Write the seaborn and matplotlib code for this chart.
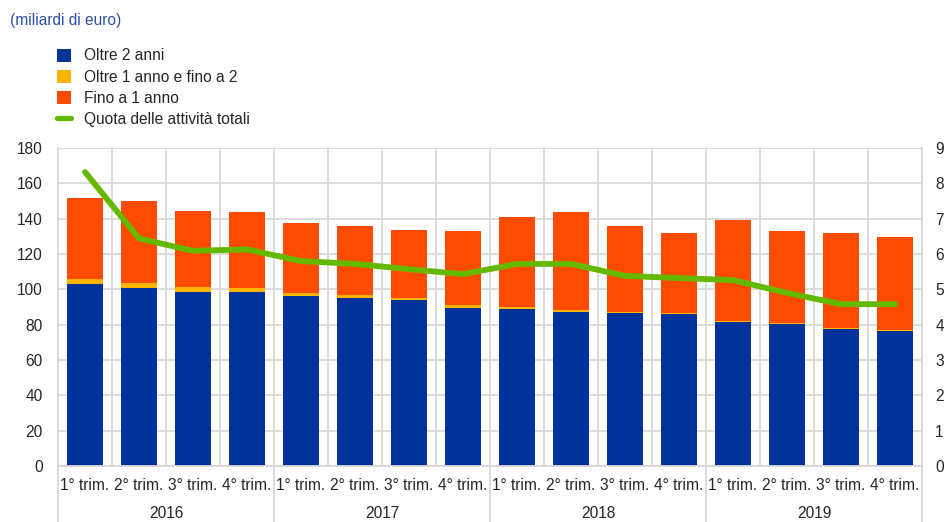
"""
Titoli detenuti per scadenza e quota delle attività totali (2016-2019)
"""
import numpy as np
import matplotlib
matplotlib.use('Agg')
import matplotlib.pyplot as plt
from matplotlib.patches import Patch
from matplotlib.lines import Line2D
import matplotlib.transforms as mtransforms
import pandas as pd
import seaborn as sns

# dati
anni = ['2016', '2017', '2018', '2019']
trimestri = ['1° trim.', '2° trim.', '3° trim.', '4° trim.']
oltre_2 = [103.0, 100.7, 98.6, 98.6, 96.4, 95.3, 94.1, 89.6,
           89.0, 87.3, 86.4, 85.9, 81.5, 80.4, 77.5, 76.4]
oltre_1_fino_2 = [2.6, 2.7, 2.7, 2.3, 1.5, 1.5, 1.0, 1.3,
                  1.0, 1.0, 0.9, 0.7, 0.8, 0.7, 0.7, 0.8]
fino_1 = [46.1, 46.4, 43.2, 42.8, 39.6, 38.8, 38.5, 42.1,
          50.7, 55.4, 48.7, 45.4, 56.7, 51.7, 53.7, 52.2]
quota = [8.32, 6.44, 6.09, 6.13, 5.80, 5.72, 5.57, 5.43,
         5.72, 5.72, 5.38, 5.32, 5.26, 4.90, 4.58, 4.58]

BLU = '#003299'
GIALLO = '#FFB400'
ARANCIO = '#FF4B00'
VERDE = '#65B800'
GRIGIO = '#d9d9d9'

sns.set_style('white')
plt.rcParams['font.family'] = ['Liberation Sans', 'DejaVu Sans']
plt.rcParams['font.size'] = 11.2

chiavi = [a + ' ' + t for a in anni for t in trimestri]
df = pd.DataFrame({
    'periodo': chiavi,
    'blu': oltre_2,
    'giallo': np.array(oltre_2) + np.array(oltre_1_fino_2),
    'totale': np.array(oltre_2) + np.array(oltre_1_fino_2) + np.array(fino_1),
    'quota': quota,
    'pos': np.arange(len(chiavi)),
})

fig = plt.figure(figsize=(9.44, 5.22), dpi=100)
ax = fig.add_axes([58 / 944, 56 / 522, 864 / 944, 318 / 522])

# barre sovrapposte (dal totale verso il basso)
for col, colore in [('totale', ARANCIO), ('giallo', GIALLO), ('blu', BLU)]:
    sns.barplot(data=df, x='periodo', y=col, order=chiavi, color=colore,
                width=0.67, saturation=1, edgecolor='none', ax=ax, zorder=2)

ax.set_xlim(-0.5, 15.5)
ax.set_ylim(0, 180)
ax.set_yticks(range(0, 181, 20))
ax.set_xticks(range(16))
ax.set_xticklabels(trimestri * 4)
ax.set_xlabel('')
ax.set_ylabel('')
ax.tick_params(axis='y', length=0, pad=11, labelsize=11.2)
ax.tick_params(axis='x', length=0, pad=9, labelsize=11.2)
ax.yaxis.grid(True, color=GRIGIO, lw=1.3, zorder=0)
ax.set_axisbelow(True)
for s in ax.spines.values():
    s.set_color(GRIGIO)
    s.set_linewidth(1.3)
ax.spines['top'].set_visible(False)

# separatori verticali
for i in range(17):
    xb = i - 0.5
    if i % 4 == 0:
        ax.axvline(xb, ymin=-0.176, ymax=1, color=GRIGIO, lw=1.3,
                   clip_on=False, zorder=0)
    else:
        ax.axvline(xb, color=GRIGIO, lw=1.3, zorder=0)

# etichette degli anni
tr = mtransforms.blended_transform_factory(ax.transData, ax.transAxes)
for k, a in enumerate(anni):
    ax.text(k * 4 + 1.5, -0.148, a, transform=tr, ha='center', va='center',
            fontsize=11.2)

# asse destro: quota delle attività totali
ax2 = ax.twinx()
sns.lineplot(data=df, x='pos', y='quota', color=VERDE, lw=4.2, ax=ax2,
             solid_capstyle='round', solid_joinstyle='round', zorder=5)
ax2.set_ylim(0, 9)
ax2.set_yticks(range(0, 10))
ax2.set_xlim(-0.5, 15.5)
ax2.set_xlabel('')
ax2.set_ylabel('')
ax2.tick_params(axis='y', length=0, pad=9.5, labelsize=11.2)
for s in ax2.spines.values():
    s.set_visible(False)

# titolo e legenda
fig.text(10 / 944, 1 - 20 / 522, '(miliardi di euro)', color='#2f4fa0',
         fontsize=11.2, ha='left', va='center')

maniglie = [
    Patch(facecolor=BLU, edgecolor='none'),
    Patch(facecolor=GIALLO, edgecolor='none'),
    Patch(facecolor=ARANCIO, edgecolor='none'),
    Line2D([0], [0], color=VERDE, lw=3.8),
]
etichette = ['Oltre 2 anni', 'Oltre 1 anno e fino a 2', 'Fino a 1 anno',
             'Quota delle attività totali']
fig.legend(maniglie, etichette, loc='upper left',
           bbox_to_anchor=(57 / 944, 1 - 48.5 / 522), frameon=False,
           fontsize=11.2, handlelength=0.92, handleheight=0.9,
           handletextpad=0.8, labelspacing=0.4, borderpad=0,
           borderaxespad=0)

fig.savefig('out.png', dpi=100)
